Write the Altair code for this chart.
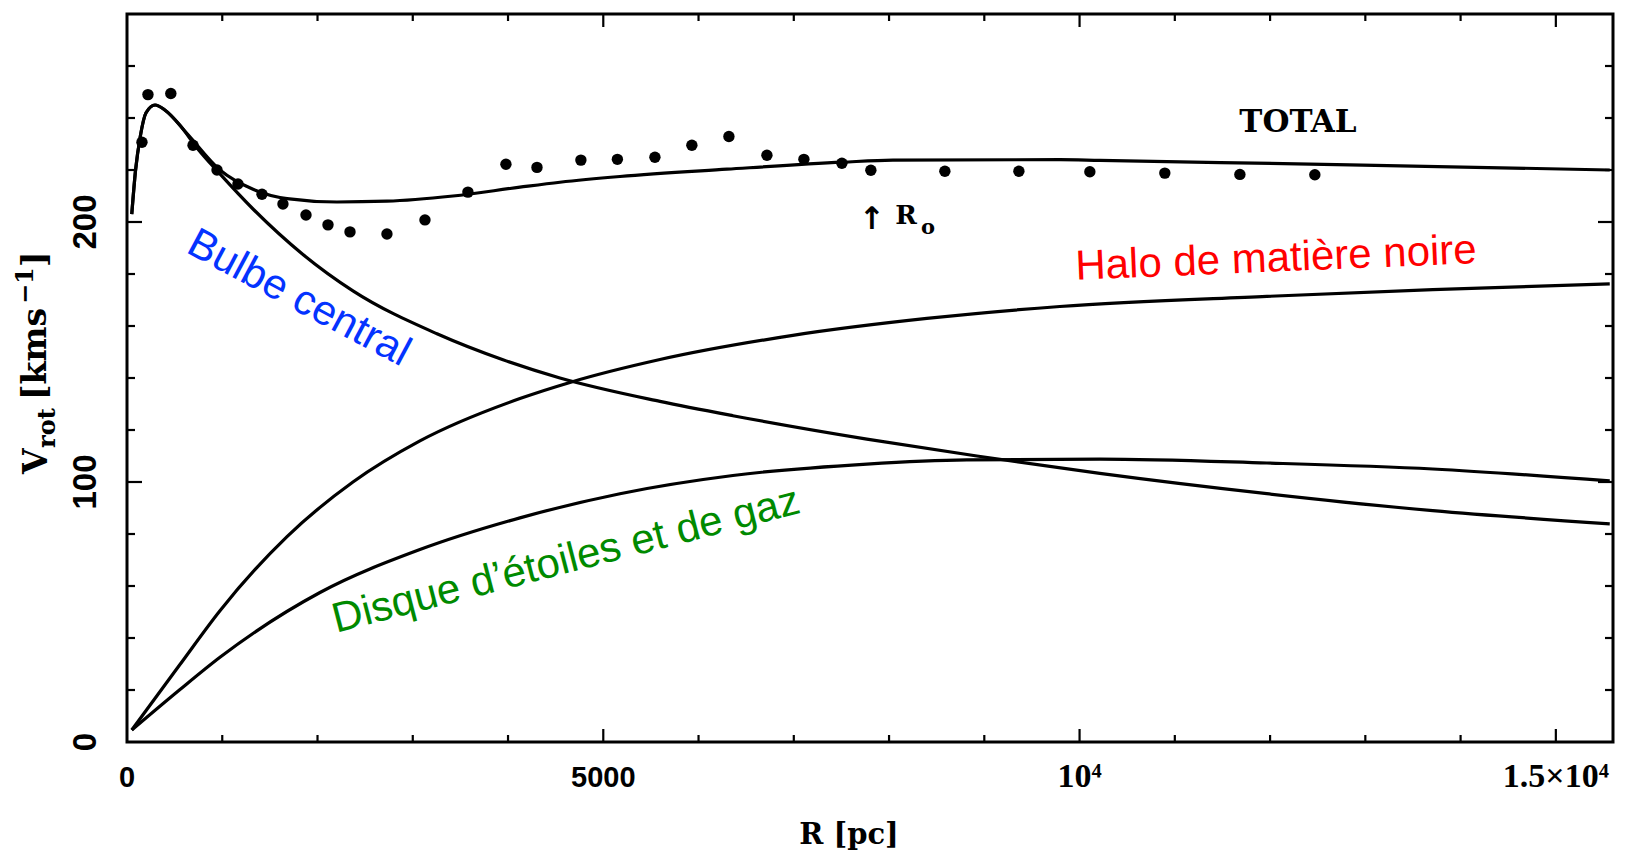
import altair as alt
import pandas as pd

# ---------------- data ----------------
R_total = [50, 90, 140, 200, 294, 400, 630, 976, 1323, 1680, 2204, 2729, 3422, 4125,
           4545, 5175, 6298, 7515, 8040, 9793, 10213, 12837, 15566]
V_total = [203, 220, 233, 242, 245, 243, 234, 220, 212.6, 209, 207.7, 208, 210, 213.4,
           215.3, 217.5, 220.3, 223, 223.8, 224, 223.7, 222, 220]

R_bulbe = [50, 90, 140, 200, 294, 400, 550, 735, 976, 1323, 1847, 2372, 3254, 3947,
           4545, 5595, 6361, 7767, 8922, 10213, 11966, 13708, 15566]
V_bulbe = [203, 220, 233, 242, 245, 243, 237.5, 228.5, 218.5, 205, 187.5, 173.5, 157, 147,
           140, 131, 125.5, 116.5, 110, 103.3, 95.5, 89, 83.9]

R_halo = [50, 550, 976, 1680, 2372, 3075, 4125, 4650, 5595, 6990, 8397, 9793,
          11966, 13708, 15566]
V_halo = [4.6, 29.5, 50.5, 79, 100, 115.8, 132.1, 138.3, 147.1, 156.4, 162.9, 167.5,
          171.4, 174, 176.2]

R_disk = [50, 550, 976, 2026, 3075, 4125, 5175, 6361, 7767, 8817, 10213, 11966,
          13708, 15566]
V_disk = [4.6, 20, 32.6, 57.5, 74, 86.2, 95.5, 102.5, 106.9, 108.5, 108.8, 107.3,
          105, 100.4]

R_obs = [157, 220, 460, 693, 945, 1165, 1417, 1637, 1879, 2110, 2341, 2729, 3128,
         3579, 3978, 4304, 4765, 5148, 5542, 5930, 6319, 6718, 7106, 7505, 7809,
         8586, 9363, 10108, 10895, 11683, 12470]
V_obs = [230.7, 249, 249.4, 229.5, 220, 214.6, 210.7, 206.9, 202.7, 198.9, 196.2,
         195.4, 200.8, 211.5, 222.2, 221, 223.8, 224.1, 224.9, 229.5, 232.9, 225.7,
         224.1, 222.6, 219.9, 219.5, 219.5, 219.3, 218.8, 218.3, 218.2]

x_label_values = [0, 5000, 10000, 15000]
x_label_texts = ["0", "5000", "10⁴", "1.5×10⁴"]
y_label_values = [0, 100, 200]
y_label_texts = ["0", "100", "200"]
x_minor_ticks = [1000, 2000, 3000, 4000, 6000, 7000, 8000, 9000, 11000, 12000, 13000, 14000]
x_major_ticks = [5000, 10000, 15000]
y_minor_ticks = [20, 40, 60, 80, 120, 140, 160, 180, 220, 240, 260]
y_major_ticks = [100, 200]

x_title = "R [pc]"
# y title pieces: V, subscript "rot", "[kms", superscript "−1", "]"
y_title_parts = ["V", "rot", "[kms", "−1", "]"]

# ---------------- tables ----------------
series = [("TOTAL", R_total, V_total), ("Bulbe", R_bulbe, V_bulbe),
          ("Halo", R_halo, V_halo), ("Disque", R_disk, V_disk)]
rows = []
for name, rs, vs in series:
    for r, v in zip(rs, vs):
        rows.append({"series": name, "R": r, "V": v})
df_lines = pd.DataFrame(rows)
df_obs = pd.DataFrame({"R": R_obs, "V": V_obs})

W, H = 1486, 728
x_scale = alt.Scale(domain=[0, 15600], nice=False, zero=False)
y_scale = alt.Scale(domain=[0, 280], nice=False, zero=False)

X = lambda: alt.X("R:Q", scale=x_scale, axis=None)
Y = lambda: alt.Y("V:Q", scale=y_scale, axis=None)

lines = alt.Chart(df_lines).mark_line(color="black", strokeWidth=3.2,
                                      interpolate="monotone").encode(
    x=X(), y=Y(), detail="series:N")

points = alt.Chart(df_obs).mark_circle(color="black", size=130, opacity=1).encode(
    x=X(), y=Y())

def xticks(vals, length):
    d = pd.DataFrame({"R": vals})
    bottom = alt.Chart(d).mark_rule(color="black", strokeWidth=2.2).encode(
        x=X(), y=alt.value(H), y2=alt.value(H - length))
    top = alt.Chart(d).mark_rule(color="black", strokeWidth=2.2).encode(
        x=X(), y=alt.value(0), y2=alt.value(length))
    return [bottom, top]

def yticks(vals, length):
    d = pd.DataFrame({"V": vals})
    left = alt.Chart(d).mark_rule(color="black", strokeWidth=2.2).encode(
        y=Y(), x=alt.value(0), x2=alt.value(length))
    right = alt.Chart(d).mark_rule(color="black", strokeWidth=2.2).encode(
        y=Y(), x=alt.value(W), x2=alt.value(W - length))
    return [left, right]

tick_layers = (xticks(x_minor_ticks, 7) + xticks(x_major_ticks, 13)
               + yticks(y_minor_ticks, 8) + yticks(y_major_ticks, 15))

# tick labels drawn as text marks (sans for small numbers, serif for powers of ten)
sans_x = [(v, t) for v, t in zip(x_label_values, x_label_texts) if v < 10000]
serif_x = [(v, t) for v, t in zip(x_label_values, x_label_texts) if v >= 10000]
xlab_sans = alt.Chart(pd.DataFrame(sans_x, columns=["R", "label"])).mark_text(
    font="Liberation Sans", fontWeight="bold", fontSize=29, color="black",
    align="center", baseline="middle").encode(
    x=X(), y=alt.value(H + 36), text="label:N")
xlab_serif = alt.Chart(pd.DataFrame(serif_x, columns=["R", "label"])).mark_text(
    font="Liberation Serif", fontWeight="bold", fontSize=34, color="black",
    align="center", baseline="middle").encode(
    x=X(), y=alt.value(H + 35), text="label:N")
ylab = alt.Chart(pd.DataFrame({"V": y_label_values, "label": y_label_texts})).mark_text(
    font="Liberation Sans", fontWeight="bold", fontSize=33, color="black",
    align="center", baseline="middle", angle=270).encode(
    y=Y(), x=alt.value(-41), text="label:N")

xtitle = alt.Chart(pd.DataFrame({"label": [x_title]})).mark_text(
    font="DejaVu Serif", fontWeight="bold", fontSize=29, color="black",
    align="center", baseline="middle").encode(
    x=alt.value(722), y=alt.value(H + 93), text="label:N")

# rotated y title built from pieces, reading bottom to top
def ypiece(text, xpos, ypos, size):
    return alt.Chart(pd.DataFrame({"label": [text]})).mark_text(
        font="DejaVu Serif", fontWeight="bold", fontSize=size, color="black",
        align="left", baseline="middle", angle=270).encode(
        x=alt.value(xpos), y=alt.value(ypos), text="label:N")

ytitle = [
    ypiece(y_title_parts[0], -90, 460, 33),
    ypiece(y_title_parts[1], -79, 434, 24),
    ypiece(y_title_parts[2], -91, 386, 33),
    ypiece(y_title_parts[3], -101, 290, 24),
    ypiece(y_title_parts[4], -91, 253, 33),
]

def note(label, r, v, angle, color, font, size, weight="normal", dx=0, dy=0):
    d = pd.DataFrame({"R": [r], "V": [v], "label": [label]})
    return alt.Chart(d).mark_text(
        angle=angle, color=color, font=font, fontSize=size, fontWeight=weight,
        align="center", baseline="middle", dx=dx, dy=dy,
    ).encode(x=X(), y=Y(), text="label:N")

R0_pos = 7821   # position of the arrow marking R0
notes = [
    note("TOTAL", 12293, 238, 0, "black", "DejaVu Serif", 31, "bold"),
    note("↑", R0_pos, 200.8, 0, "black", "DejaVu Sans", 31, "bold"),
    note("R", R0_pos, 200.8, 0, "black", "DejaVu Serif", 26, "bold", dx=34, dy=-4),
    note("o", R0_pos, 200.8, 0, "black", "DejaVu Serif", 21, "bold", dx=56, dy=8),
    note("Bulbe central", 1806, 170.8, 28, "#0433FF", "Liberation Sans", 42),
    note("Halo de matière noire", 12062, 186, 357.6, "#FF0000", "Liberation Sans", 42),
    note("Disque d’étoiles et de gaz", 4608, 70, 345.5, "#008A00", "Liberation Sans", 42),
]

chart = alt.layer(lines, points, *tick_layers, xlab_sans, xlab_serif, ylab,
                  xtitle, *ytitle, *notes).properties(
    width=W, height=H,
    padding={"left": 127, "top": 14, "right": 21, "bottom": 123},
    autosize=alt.AutoSizeParams(type="none"),
    background="white",
).configure_view(
    stroke="black", strokeWidth=3,
)

chart.save("out.html", embed_options={"renderer": "svg", "actions": False})
